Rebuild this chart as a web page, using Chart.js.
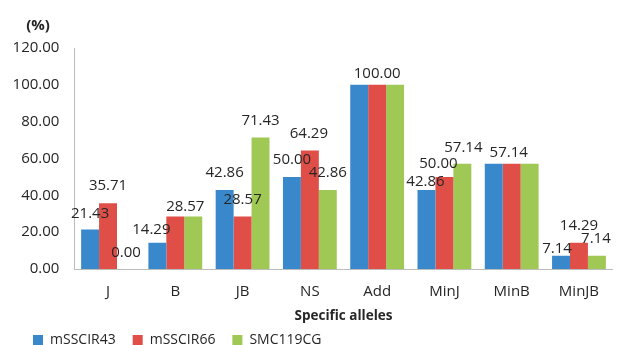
<!DOCTYPE html>
<html>
<head>
<meta charset="utf-8">
<script src="https://cdn.jsdelivr.net/npm/chart.js@4/dist/chart.umd.min.js"></script>
<style>
  html, body { margin: 0; padding: 0; background: #ffffff; }
  #wrap { width: 618px; height: 345px; }
</style>
</head>
<body>
<div id="wrap"><canvas id="chart" width="618" height="345"></canvas></div>
<script>
// Categories of specific alleles
const categories = ['J', 'B', 'JB', 'NS', 'Add', 'MinJ', 'MinB', 'MinJB'];

// Percentage of specific alleles per marker
const mSSCIR43 = [21.43, 14.29, 42.86, 50.00, 100.00, 42.86, 57.14, 7.14];
const mSSCIR66 = [35.71, 28.57, 28.57, 64.29, 100.00, 50.00, 57.14, 14.29];
const SMC119CG = [0.00, 28.57, 71.43, 42.86, 100.00, 57.14, 57.14, 7.14];

const seriesNames = ['mSSCIR43', 'mSSCIR66', 'SMC119CG'];
const seriesColors = ['#3a88cc', '#e04e48', '#9fc854'];

// Y axis ticks
const yTicks = [0, 20, 40, 60, 80, 100, 120];

// Value label placement: [dx, lift above bar top], null = label not drawn
const labelPlacement = [
  [[0, 16], [-6, 13], [0, 17], [0, 17], null, [-1, 8], null, [-4, 7]],
  [[0, 17], [10, 10], [0, 17], [-1, 17], [0, 11], [-6, 13], [-3, 11], [0, 17]],
  [[0, 16], null, [0, 17], [0, 17], null, [1, 16], null, [-1, 17]]
];

const FONT = "'Open Sans', 'Noto Sans', sans-serif";
const TEXT = '#262626';

const valueLabels = {
  id: 'valueLabels',
  afterDatasetsDraw(chart) {
    const ctx = chart.ctx;
    ctx.save();
    ctx.font = '15px ' + FONT;
    ctx.fillStyle = TEXT;
    ctx.textAlign = 'center';
    ctx.textBaseline = 'middle';
    chart.data.datasets.forEach((ds, di) => {
      const meta = chart.getDatasetMeta(di);
      meta.data.forEach((bar, i) => {
        const p = labelPlacement[di][i];
        if (!p) return;
        ctx.fillText(ds.data[i].toFixed(2), bar.x + p[0], bar.y - p[1]);
      });
    });
    ctx.restore();
  }
};

// Unit caption above the value axis
const unitLabel = {
  id: 'unitLabel',
  afterDraw(chart) {
    const ctx = chart.ctx;
    ctx.save();
    ctx.font = 'bold 15px ' + FONT;
    ctx.fillStyle = TEXT;
    ctx.textAlign = 'center';
    ctx.textBaseline = 'middle';
    ctx.fillText('(%)', 38, chart.chartArea.top - 22);
    ctx.restore();
  }
};

// Indent the legend row from the left edge
const legendIndent = {
  id: 'legendIndent',
  afterLayout(chart) {
    if (chart.legend) chart.legend.left += 16;
  }
};

const seriesData = [mSSCIR43, mSSCIR66, SMC119CG];

new Chart(document.getElementById('chart'), {
  type: 'bar',
  data: {
    labels: categories,
    datasets: seriesData.map((d, i) => ({
      label: seriesNames[i],
      data: d,
      backgroundColor: seriesColors[i],
      borderWidth: 0,
      barPercentage: 1.0,
      categoryPercentage: 0.8
    }))
  },
  options: {
    responsive: false,
    animation: false,
    devicePixelRatio: 1,
    layout: { padding: { left: 0, right: 5.4, top: 48, bottom: -12 } },
    plugins: {
      legend: {
        position: 'bottom',
        align: 'start',
        labels: {
          boxWidth: 10,
          boxHeight: 10,
          padding: 17,
          color: TEXT,
          font: { family: FONT, size: 14 }
        }
      },
      title: { display: false },
      tooltip: { enabled: false }
    },
    scales: {
      x: {
        grid: { display: false, drawTicks: false },
        border: { display: true, color: '#bcbcbc', width: 1 },
        ticks: { color: TEXT, padding: 14, font: { family: FONT, size: 15 } },
        title: {
          display: true,
          text: 'Specific alleles',
          color: TEXT,
          padding: { top: 0, bottom: -7 },
          font: { family: FONT, size: 13.5, weight: 'bold', lineHeight: 1 }
        },
        afterFit(scale) { scale.height = 47; }
      },
      y: {
        min: 0,
        max: 120,
        grid: { display: false, drawTicks: false },
        border: { display: true, color: '#bcbcbc', width: 1 },
        afterBuildTicks(scale) { scale.ticks = yTicks.map(v => ({ value: v })); },
        ticks: {
          color: TEXT,
          padding: 15,
          font: { family: FONT, size: 15 },
          callback: v => Number(v).toFixed(2)
        },
        afterFit(scale) { scale.width = 74.4; }
      }
    }
  },
  plugins: [valueLabels, unitLabel, legendIndent]
});
</script>
</body>
</html>
